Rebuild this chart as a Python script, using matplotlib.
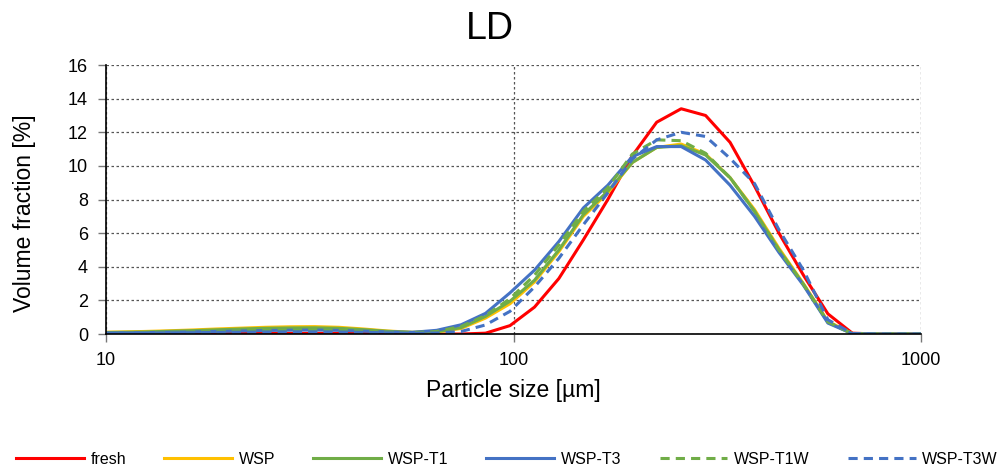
import matplotlib.pyplot as plt
from matplotlib.ticker import FixedLocator, NullLocator

plt.rcParams['font.family'] = ['Liberation Sans', 'DejaVu Sans']

# Particle size bins [um]
size = [9.36, 10.75, 12.35, 14.17, 16.27, 18.68, 21.45, 24.63, 28.28, 32.47,
        37.27, 42.80, 49.14, 56.42, 64.77, 74.37, 85.39, 98.04, 112.6, 129.2,
        148.4, 170.4, 195.6, 224.6, 257.9, 296.1, 340.0, 390.4, 448.2, 514.6,
        590.9, 678.4, 779.0, 894.4, 1026.0]

# Volume fraction [%]
fresh = [0.0, 0.01, 0.01, 0.02, 0.02, 0.03, 0.03, 0.04, 0.04, 0.04,
         0.04, 0.03, 0.02, 0.01, 0.0, 0.0, 0.05, 0.5, 1.6, 3.3,
         5.6, 8.0, 10.6, 12.6, 13.4, 13.0, 11.4, 8.8, 6.0, 3.5,
         1.2, 0.05, 0.0, 0.0, 0.0]
wsp = [0.1, 0.12, 0.15, 0.19, 0.24, 0.3, 0.35, 0.4, 0.43, 0.44,
       0.4, 0.3, 0.18, 0.1, 0.12, 0.33, 0.95, 1.8, 3.1, 4.9,
       7.0, 8.4, 10.2, 11.1, 11.3, 10.7, 9.3, 7.4, 5.1, 3.0,
       0.75, 0.02, 0.0, 0.0, 0.0]
wsp_t1 = [0.08, 0.1, 0.12, 0.16, 0.2, 0.25, 0.3, 0.34, 0.36, 0.37,
          0.34, 0.26, 0.16, 0.1, 0.13, 0.38, 1.05, 1.95, 3.2, 5.0,
          7.1, 8.5, 10.2, 11.1, 11.2, 10.65, 9.3, 7.3, 5.0, 2.95,
          0.7, 0.02, 0.0, 0.0, 0.0]
wsp_t3 = [0.06, 0.07, 0.08, 0.1, 0.12, 0.15, 0.18, 0.21, 0.23, 0.24,
          0.22, 0.17, 0.12, 0.1, 0.22, 0.55, 1.23, 2.45, 3.8, 5.5,
          7.5, 8.85, 10.55, 11.15, 11.15, 10.35, 8.85, 7.0, 4.85, 2.9,
          0.65, 0.02, 0.0, 0.0, 0.0]
wsp_t1w = [0.05, 0.06, 0.08, 0.1, 0.13, 0.16, 0.2, 0.23, 0.25, 0.26,
           0.24, 0.18, 0.12, 0.08, 0.15, 0.45, 1.1, 2.1, 3.5, 5.3,
           7.3, 8.7, 10.7, 11.55, 11.5, 10.75, 9.3, 7.3, 5.0, 2.95,
           0.72, 0.02, 0.0, 0.0, 0.0]
wsp_t3w = [0.04, 0.05, 0.06, 0.07, 0.08, 0.1, 0.11, 0.12, 0.13, 0.13,
           0.12, 0.1, 0.07, 0.05, 0.06, 0.15, 0.54, 1.35, 2.8, 4.5,
           6.5, 8.4, 10.4, 11.55, 12.0, 11.75, 10.45, 8.95, 6.2, 3.8,
           0.85, 0.03, 0.0, 0.0, 0.0]

red = '#FF0000'
yellow = '#FFC000'
green = '#70AD47'
blue = '#4472C4'

fig = plt.figure(figsize=(10, 4.68), dpi=100)
ax = fig.add_axes([0.106, 0.2863, 0.815, 0.5747])

lw = 2.2
dash = (0, (3, 2))
ax.plot(size, fresh, color=red, lw=lw, label='fresh')
ax.plot(size, wsp, color=yellow, lw=lw, label='WSP')
ax.plot(size, wsp_t1, color=green, lw=lw, label='WSP-T1')
ax.plot(size, wsp_t3, color=blue, lw=lw, label='WSP-T3')
ax.plot(size, wsp_t1w, color=green, lw=lw, ls=dash, label='WSP-T1W')
ax.plot(size, wsp_t3w, color=blue, lw=lw, ls=dash, label='WSP-T3W')

ax.set_xscale('log')
ax.set_xlim(10, 1000)
ax.set_ylim(0, 16)
ax.xaxis.set_major_locator(FixedLocator([10, 100, 1000]))
ax.xaxis.set_minor_locator(NullLocator())
ax.set_xticklabels(['10', '100', '1000'])
ax.set_yticks(range(0, 17, 2))
ax.tick_params(axis='both', labelsize=13, length=6, width=1, color='#777777')
ax.tick_params(axis='x', pad=7)
ax.tick_params(axis='y', pad=7)

ax.grid(True, which='major', color='#555555', ls=(0, (2, 2)), lw=0.9)
ax.set_axisbelow(True)
for s in ['top', 'right']:
    ax.spines[s].set_visible(False)
for s in ['left', 'bottom']:
    ax.spines[s].set_color('black')
    ax.spines[s].set_linewidth(1.2)

ax.set_xlabel('Particle size [µm]', fontsize=16.5)
ax.xaxis.set_label_coords(0.5, -0.167)
ax.xaxis.label.set_va('top')
ax.set_ylabel('Volume fraction [%]', fontsize=16.5)
ax.yaxis.set_label_coords(-0.0855, 0.448)

fig.text(0.49, 1 - 29 / 468, 'LD', ha='center', va='center', fontsize=27)

fig.legend(loc='center left', bbox_to_anchor=(0.016, 1 - 459 / 468), ncol=6,
           frameon=False, fontsize=11.5, handlelength=4.25, columnspacing=2.4,
           handletextpad=0.4, borderpad=0, borderaxespad=0)

fig.savefig('out.png', dpi=100)
